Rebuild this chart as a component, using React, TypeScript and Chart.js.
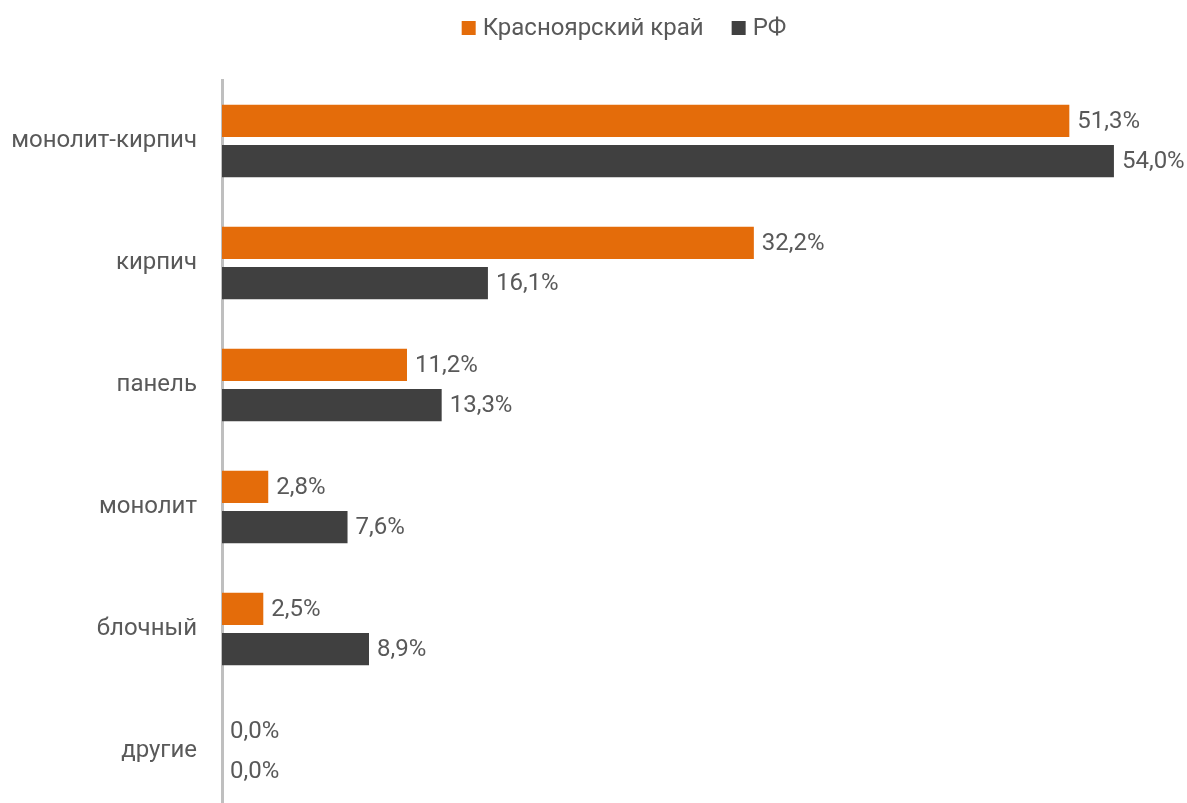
import React, { useEffect, useRef } from "react";
import { Chart, registerables } from "chart.js";

Chart.register(...registerables);

const categories = ["монолит-кирпич", "кирпич", "панель", "монолит", "блочный", "другие"];
const seriesNames = ["Красноярский край", "РФ"];
const krasnoyarsk = [51.3, 32.2, 11.2, 2.8, 2.5, 0.0];
const russia = [54.0, 16.1, 13.3, 7.6, 8.9, 0.0];
const colors = ["#E46C0A", "#404040"];

const TEXT = "#595959";
const FONT = "Roboto";
const FS = 24;

const labelPlugin = {
  id: "valueLabels",
  afterDatasetsDraw(chart: any) {
    const ctx = chart.ctx;
    ctx.save();
    ctx.font = `${FS}px ${FONT}`;
    ctx.fillStyle = TEXT;
    ctx.textAlign = "left";
    ctx.textBaseline = "middle";
    chart.data.datasets.forEach((ds: any, i: number) => {
      const meta = chart.getDatasetMeta(i);
      meta.data.forEach((el: any, j: number) => {
        const v = ds.data[j] as number;
        const txt = v.toFixed(1).replace(".", ",") + "%";
        ctx.fillText(txt, el.x + 8, el.y + 1);
      });
    });
    ctx.restore();
  },
};

const legendPlugin = {
  id: "customLegend",
  afterDraw(chart: any) {
    const ctx = chart.ctx;
    ctx.save();
    ctx.font = `${FS}px ${FONT}`;
    ctx.textBaseline = "middle";
    ctx.textAlign = "left";
    const box = 14;
    const gap = 7;
    const spacing = 28;
    const ds = chart.data.datasets;
    const widths = ds.map((d: any) => box + gap + ctx.measureText(d.label).width);
    const total = widths.reduce((a: number, b: number) => a + b, 0) + spacing * (ds.length - 1);
    let x = 624 - total / 2;
    const y = 28;
    ds.forEach((d: any, i: number) => {
      ctx.fillStyle = d.backgroundColor;
      ctx.fillRect(x, y - box / 2, box, box);
      ctx.fillStyle = TEXT;
      ctx.fillText(d.label, x + box + gap, y + 1);
      x += widths[i] + spacing;
    });
    ctx.restore();
  },
};

export default function App() {
  const ref = useRef<HTMLCanvasElement | null>(null);
  useEffect(() => {
    let chart: Chart | null = null;
    let cancelled = false;
    const make = () => {
      if (cancelled || !ref.current) return;
      chart = new Chart(ref.current, {
        type: "bar",
        data: {
          labels: categories,
          datasets: [
            { label: seriesNames[0], data: krasnoyarsk, backgroundColor: colors[0], categoryPercentage: 0.66, barPercentage: 0.8 },
            { label: seriesNames[1], data: russia, backgroundColor: colors[1], categoryPercentage: 0.66, barPercentage: 0.8 },
          ],
        },
        options: {
          indexAxis: "y",
          animation: false,
          responsive: false,
          maintainAspectRatio: false,
          layout: { padding: { top: 80, right: 7, bottom: 0, left: 0 } },
          plugins: {
            tooltip: { enabled: false },
            legend: { display: false },
          },
          scales: {
            x: { display: false, min: 0, max: 58 },
            y: {
              grid: { display: false, drawTicks: false },
              border: { display: true, color: "#BFBFBF", width: 3 },
              ticks: { font: { family: FONT, size: FS }, color: TEXT, padding: 25 },
              afterFit: (s: any) => {
                s.width = 222;
                s.paddingTop = 0;
                s.paddingBottom = 0;
              },
            },
          },
        },
        plugins: [labelPlugin, legendPlugin],
      });
    };
    (document as any).fonts.load(`${FS}px ${FONT}`).then(make, make);
    return () => {
      cancelled = true;
      if (chart) chart.destroy();
    };
  }, []);
  return (
    <div style={{ position: "absolute", left: 0, top: 0, width: 1187, height: 812 }}>
      <canvas ref={ref} width={1187} height={812} style={{ display: "block", width: 1187, height: 812 }} />
    </div>
  );
}
